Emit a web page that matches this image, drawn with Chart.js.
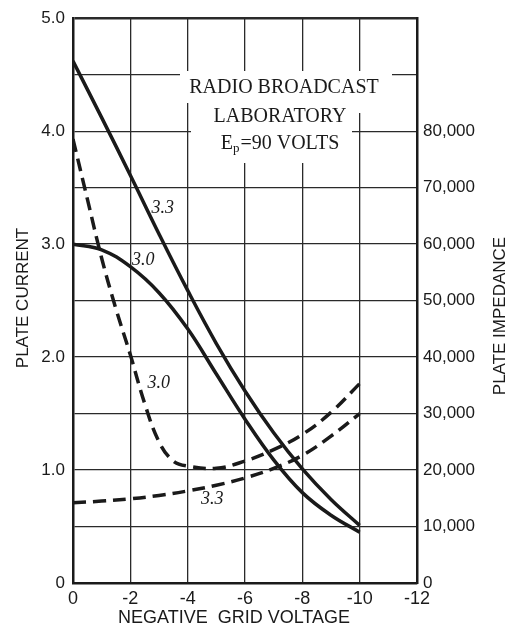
<!DOCTYPE html>
<html>
<head>
<meta charset="utf-8">
<script src="https://cdn.jsdelivr.net/npm/chart.js@4.4.1/dist/chart.umd.min.js"></script>
<style>
  html, body { margin: 0; padding: 0; background: #fff; }
  #wrap { width: 525px; height: 630px; }
</style>
</head>
<body>
<div id="wrap"><canvas id="tubeChart" width="525" height="630"></canvas></div>
<script>
// negative grid volts, plate current (mA), plate impedance (ohms)
var biasCurrent = [0, -1, -2, -3, -4, -5, -6, -7, -8, -9, -10];
var current33 = [4.62, 4.12, 3.61, 3.09, 2.59, 2.12, 1.70, 1.33, 1.01, 0.74, 0.51];
var current30 = [3.0, 2.95, 2.80, 2.57, 2.25, 1.85, 1.45, 1.09, 0.80, 0.60, 0.45];

var biasImp30 = [0, -0.5, -1, -1.5, -2, -2.5, -3, -3.5, -4, -5, -6, -7, -8, -9, -10];
var impedance30 = [78600, 68000, 57500, 48500, 40400, 31800, 25000, 21600, 20700, 20300, 21600, 23600, 26300, 30200, 35300];
var biasImp33 = [0, -1, -2, -3, -4, -5, -6, -7, -8, -9, -10];
var impedance33 = [14200, 14500, 14900, 15500, 16300, 17300, 18600, 20300, 22600, 26000, 30000];

// curve tags, placed in data units
var tagText = ['3.3', '3.0', '3.0', '3.3'];
var tagAxis = ['y', 'y', 'y2', 'y2'];
var tagX = [-3.13, -2.45, -2.99, -4.86];
var tagY = [3.32, 2.855, 35350, 14800];

var ink = '#1a1a1a';

function pairs(xs, ys) {
    return xs.map(function (x, i) { return { x: x, y: ys[i] }; });
}

var notes = {
    id: 'notes',
    beforeDatasetsDraw: function (chart) {
        var c = chart.ctx;
        c.save();
        // white patch behind the caption
        c.fillStyle = '#fff';
        c.fillRect(180, 71, 212, 32);
        c.fillRect(191, 100, 161, 63);
        c.fillRect(352, 100, 16, 13);

        c.fillStyle = ink;
        c.textBaseline = 'middle';
        c.textAlign = 'center';
        c.font = '20px "Liberation Serif"';
        c.fillText('RADIO BROADCAST', 284, 88);
        c.fillText('LABORATORY', 280, 117);

        // E with subscript p
        var big = '20px "Liberation Serif"', small = '13px "Liberation Serif"';
        c.font = big;
        var wE = c.measureText('E').width, wRest = c.measureText('=90 VOLTS').width;
        c.font = small;
        var wP = c.measureText('p').width + 1;
        var x0 = 280 - (wE + wP + wRest) / 2;
        c.textAlign = 'left';
        c.font = big;
        c.fillText('E', x0, 144);
        c.font = small;
        c.fillText('p', x0 + wE, 149);
        c.font = big;
        c.fillText('=90 VOLTS', x0 + wE + wP, 144);
        c.restore();
    },
    afterDraw: function (chart) {
        var c = chart.ctx;
        c.save();
        c.fillStyle = ink;
        c.textAlign = 'center';
        c.textBaseline = 'middle';
        c.font = '17px "Liberation Sans"';

        c.save();
        c.translate(23, 298);
        c.rotate(-Math.PI / 2);
        c.fillText('PLATE CURRENT', 0, 0);
        c.restore();

        c.save();
        c.translate(500, 316);
        c.rotate(-Math.PI / 2);
        c.fillText('PLATE IMPEDANCE', 0, 0);
        c.restore();

        c.font = '18px "Liberation Sans"';
        c.fillText('NEGATIVE  GRID VOLTAGE', 234, 618);

        c.font = 'italic 18px "Liberation Serif"';
        for (var i = 0; i < tagText.length; i++) {
            var px = chart.scales.x.getPixelForValue(tagX[i]);
            var py = chart.scales[tagAxis[i]].getPixelForValue(tagY[i]);
            c.fillText(tagText[i], px, py);
        }
        c.restore();
    }
};

function curve(label, xs, ys, axis, dashed) {
    return {
        label: label,
        data: pairs(xs, ys),
        yAxisID: axis,
        borderColor: ink,
        borderWidth: 3.5,
        borderDash: dashed ? [13, 7] : [],
        pointRadius: 0,
        tension: 0.4
    };
}

var ctx = document.getElementById('tubeChart').getContext('2d');
var chart = new Chart(ctx, {
    type: 'line',
    data: {
        datasets: [
            curve('Ip 3.3', biasCurrent, current33, 'y', false),
            curve('Ip 3.0', biasCurrent, current30, 'y', false),
            curve('Rp 3.0', biasImp30, impedance30, 'y2', true),
            curve('Rp 3.3', biasImp33, impedance33, 'y2', true)
        ]
    },
    options: {
        responsive: false,
        animation: false,
        devicePixelRatio: 1,
        layout: { padding: { top: 13, left: 0, right: 0, bottom: 0 } },
        plugins: {
            legend: { display: false },
            tooltip: { enabled: false }
        },
        scales: {
            x: {
                type: 'linear',
                reverse: true,
                min: -12,
                max: 0,
                afterFit: function (s) { s.height = 47; },
                grid: { color: '#2a2a2a', lineWidth: 1.3, drawTicks: false },
                border: { color: ink, width: 2.5 },
                ticks: {
                    stepSize: 2,
                    padding: 5,
                    color: ink,
                    font: { family: 'Liberation Sans', size: 18 },
                    callback: function (v) { return v === 0 ? '0' : String(v); }
                }
            },
            y: {
                position: 'left',
                min: 0,
                max: 5,
                afterFit: function (s) { s.width = 73; },
                grid: {
                    color: '#2a2a2a',
                    drawTicks: false,
                    lineWidth: function (c) { return c.tick && c.tick.value === 5 ? 2.5 : 1.3; }
                },
                border: { color: ink, width: 2.5 },
                ticks: {
                    stepSize: 0.5,
                    padding: 8,
                    color: ink,
                    font: { family: 'Liberation Sans', size: 17 },
                    callback: function (v) {
                        if (v % 1 !== 0) return '';
                        return v === 0 ? '0' : v.toFixed(1);
                    }
                }
            },
            y2: {
                position: 'right',
                min: 0,
                max: 100000,
                afterFit: function (s) { s.width = 108; },
                grid: { display: false, drawTicks: false },
                border: { color: ink, width: 2.5 },
                ticks: {
                    stepSize: 10000,
                    padding: 6,
                    color: ink,
                    font: { family: 'Liberation Sans', size: 17 },
                    callback: function (v) {
                        return v > 80000 ? '' : v.toLocaleString('en-US');
                    }
                }
            }
        }
    },
    plugins: [notes]
});
</script>
</body>
</html>
